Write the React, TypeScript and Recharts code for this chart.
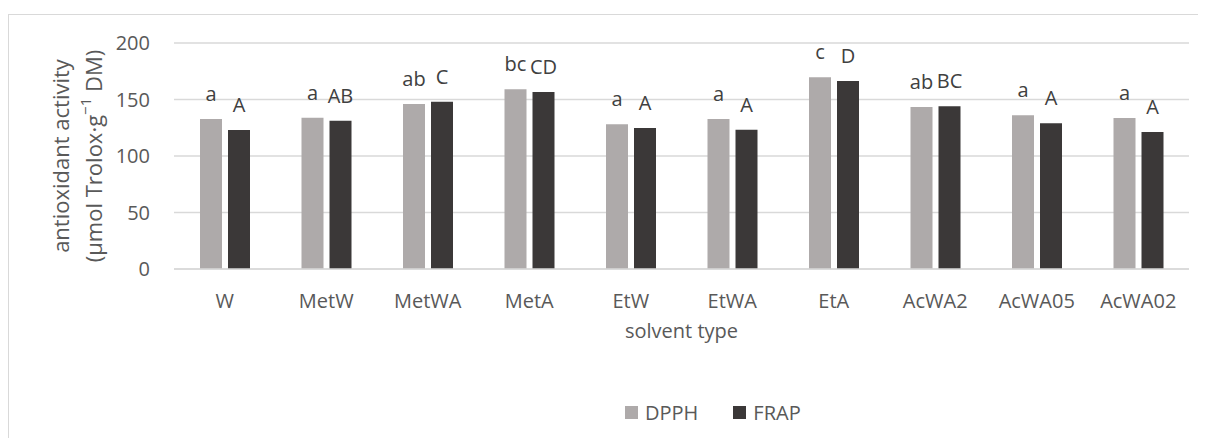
import React from 'react';
import { BarChart, Bar, XAxis, YAxis, CartesianGrid, LabelList } from 'recharts';

const solvents = ['W', 'MetW', 'MetWA', 'MetA', 'EtW', 'EtWA', 'EtA', 'AcWA2', 'AcWA05', 'AcWA02'];
const dpphValues = [132.7, 133.9, 146, 159, 128, 132.7, 169.6, 143.4, 136, 133.6];
const frapValues = [123, 131.2, 148, 156.6, 124.8, 123.3, 166.4, 144, 129, 121.2];
const dpphLetters = ['a', 'a', 'ab', 'bc', 'a', 'a', 'c', 'ab', 'a', 'a'];
const frapLetters = ['A', 'AB', 'C', 'CD', 'A', 'A', 'D', 'BC', 'A', 'A'];
const yTicks = [0, 50, 100, 150, 200];

const series = [
  { key: 'DPPH', letters: 'dpphLetter', color: '#aeaaaa' },
  { key: 'FRAP', letters: 'frapLetter', color: '#3b3838' },
];

const FONT = '"Open Sans", "Noto Sans", sans-serif';
const TEXT = '#595959';

// 图表宽高（页面 body 有 8px 边距）
const W = 1198;
const H = 430;

function YTitle({ viewBox }: any) {
  const cy = viewBox.y + viewBox.height / 2;
  return (
    <g fontFamily={FONT} fontSize={22} fill={TEXT}>
      <text x={52} y={cy} transform={`rotate(-90 52 ${cy})`} textAnchor="middle" dominantBaseline="central">
        antioxidant activity
      </text>
      <text x={85} y={cy} transform={`rotate(-90 85 ${cy})`} textAnchor="middle" dominantBaseline="central">
        (µmol Trolox·g<tspan dy={-8} fontSize={15}>−1</tspan><tspan dy={8}> DM)</tspan>
      </text>
    </g>
  );
}

export default function App() {
  const data = solvents.map((name, i) => ({
    name,
    DPPH: dpphValues[i],
    FRAP: frapValues[i],
    dpphLetter: dpphLetters[i],
    frapLetter: frapLetters[i],
  }));

  return (
    <div style={{ position: 'relative', width: W, height: H, overflow: 'hidden', fontFamily: FONT }}>
      <div
        style={{
          position: 'absolute',
          left: 0,
          top: 6,
          width: W + 20,
          height: H + 20,
          border: '1.5px solid #d9d9d9',
          boxSizing: 'border-box',
        }}
      />
      <BarChart
        width={W}
        height={H}
        data={data}
        margin={{ top: 35, right: 17, left: 0, bottom: 0 }}
        barGap={6}
        barSize={22}
        style={{ position: 'absolute', left: 0, top: 0 }}
      >
        <CartesianGrid vertical={false} stroke="#d9d9d9" strokeWidth={1.5} />
        <XAxis
          dataKey="name"
          height={169}
          tickLine={false}
          tickSize={0}
          tickMargin={25}
          axisLine={{ stroke: '#d9d9d9', strokeWidth: 1.5 }}
          tick={{ fill: TEXT, fontSize: 20, fontFamily: FONT }}
          interval={0}
          label={{ value: 'solvent type', position: 'insideTop', offset: 55, fill: TEXT, fontSize: 20, fontFamily: FONT }}
        />
        <YAxis
          width={166}
          domain={[0, 200]}
          ticks={yTicks}
          axisLine={false}
          tickLine={false}
          tickSize={0}
          tickMargin={24}
          tick={{ fill: TEXT, fontSize: 20, fontFamily: FONT }}
          label={<YTitle />}
        />
        {series.map((s) => (
          <Bar key={s.key} dataKey={s.key} fill={s.color} isAnimationActive={false}>
            <LabelList dataKey={s.letters} position="top" offset={18} fill="#404040" fontSize={20} fontFamily={FONT} />
          </Bar>
        ))}
      </BarChart>
      <div
        style={{
          position: 'absolute',
          top: 391,
          left: 617,
          display: 'flex',
          gap: 35,
          fontSize: 20,
          color: TEXT,
        }}
      >
        {series.map((s) => (
          <div key={s.key} style={{ display: 'flex', alignItems: 'center', gap: 7 }}>
            <span style={{ width: 13, height: 13, background: s.color, display: 'inline-block' }} />
            <span>{s.key}</span>
          </div>
        ))}
      </div>
    </div>
  );
}
